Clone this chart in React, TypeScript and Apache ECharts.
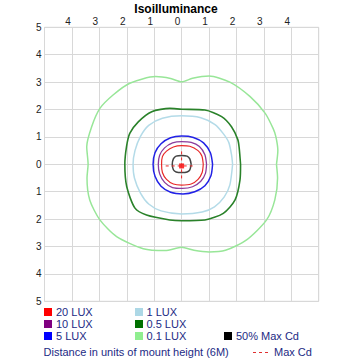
import React, { useEffect, useRef } from 'react';
import * as echarts from 'echarts';

const xTickLabels = ['', '4', '3', '2', '1', '0', '1', '2', '3', '4', ''];
const yTickLabels = ['5', '4', '3', '2', '1', '0', '1', '2', '3', '4', '5'];

const lux01: number[][] = [
  [3.46, 0.0], [3.51, 0.5], [3.44, 1.0], [3.34, 1.3], [3.05, 1.86], [2.5, 2.47], [1.76, 3.0], [1.0, 3.22],
  [0.4, 3.14], [0.0, 3.01], [-0.4, 3.13], [-0.95, 3.2], [-1.89, 2.96], [-2.5, 2.53], [-2.98, 2.04],
  [-3.28, 1.37], [-3.46, 0.64], [-3.41, 0.0], [-3.45, -0.5], [-3.35, -1.3], [-2.98, -2.03], [-2.37, -2.64],
  [-1.4, -3.08], [-0.6, -3.15], [0.0, -3.03], [0.45, -3.14], [1.0, -3.2], [1.6, -3.14], [2.37, -2.76],
  [3.1, -2.03], [3.4, -1.3], [3.5, -0.5], [3.46, 0.0],
];
const lux05: number[][] = [
  [2.15, 0.0], [2.1, 0.6], [2.05, 0.9], [1.82, 1.37], [1.46, 1.74], [0.85, 1.98], [0.0, 2.01],
  [-0.43, 2.04], [-1.09, 1.92], [-1.58, 1.55], [-1.89, 1.13], [-2.01, 0.64], [-2.07, 0.0], [-2.0, -0.82],
  [-1.7, -1.6], [-1.28, -1.85], [-0.43, -2.03], [0.0, -2.06], [0.85, -2.03], [1.52, -1.79], [1.95, -1.3],
  [2.13, -0.57], [2.15, 0.0],
];
const lux1: number[][] = [
  [1.86, 0.0], [1.82, 0.35], [1.72, 0.8], [1.52, 1.12], [1.22, 1.45], [0.7, 1.7], [0.0, 1.77],
  [-0.7, 1.68], [-1.2, 1.42], [-1.5, 1.02], [-1.7, 0.5], [-1.77, 0.0], [-1.72, -0.5], [-1.5, -1.05],
  [-1.2, -1.45], [-0.75, -1.7], [0.0, -1.81], [0.75, -1.74], [1.2, -1.55], [1.55, -1.2], [1.76, -0.75],
  [1.86, 0.0],
];
const lux5: number[][] = [
  [1.13, 0.0], [1.05, 0.42], [0.8, 0.78], [0.43, 0.98], [0.0, 1.03], [-0.4, 0.97], [-0.75, 0.75],
  [-0.97, 0.42], [-1.04, 0.0], [-0.97, -0.44], [-0.75, -0.8], [-0.4, -1.02], [0.05, -1.08], [0.48, -1.0],
  [0.85, -0.78], [1.07, -0.42], [1.13, 0.0],
];
const lux10: number[][] = [
  [0.91, 0.0], [0.85, 0.35], [0.65, 0.65], [0.35, 0.8], [0.0, 0.83], [-0.33, 0.78], [-0.62, 0.6],
  [-0.8, 0.33], [-0.85, 0.0], [-0.8, -0.35], [-0.62, -0.66], [-0.33, -0.85], [0.03, -0.88], [0.4, -0.82],
  [0.7, -0.62], [0.87, -0.33], [0.91, 0.0],
];
const lux20: number[][] = [
  [0.79, 0.0], [0.74, 0.3], [0.6, 0.5], [0.3, 0.66], [0.0, 0.68], [-0.3, 0.63], [-0.55, 0.48],
  [-0.7, 0.28], [-0.73, 0.0], [-0.7, -0.3], [-0.55, -0.55], [-0.3, -0.72], [0.0, -0.76], [0.35, -0.72],
  [0.6, -0.55], [0.75, -0.3], [0.79, 0.0],
];
const halfMaxCd: number[][] = [
  [0.35, 0.0], [0.3, 0.2], [0.2, 0.3], [0.0, 0.32], [-0.2, 0.3], [-0.3, 0.2], [-0.34, 0.0], [-0.3, -0.2],
  [-0.2, -0.28], [0.0, -0.3], [0.2, -0.28], [0.3, -0.2], [0.35, 0.0],
];
const maxCdPoint: number[] = [0.0, -0.06];
const maxCdHorizontal: number[][] = [[-0.58, -0.06], [0.5, -0.06]];
const maxCdVertical: number[][] = [[0.0, 0.47], [0.0, -0.57]];

const contours = [
  { name: '0.1 LUX', color: '#98e698', width: 1.5, data: lux01 },
  { name: '0.5 LUX', color: '#2a822a', width: 1.6, data: lux05 },
  { name: '1 LUX', color: '#b4dbe8', width: 1.5, data: lux1 },
  { name: '5 LUX', color: '#2222e6', width: 1.5, data: lux5 },
  { name: '10 LUX', color: '#8c3c9c', width: 1.3, data: lux10 },
  { name: '20 LUX', color: '#e82828', width: 1.2, data: lux20 },
  { name: '50% Max Cd', color: '#444444', width: 1.5, data: halfMaxCd },
];

const legendCol1 = [
  { name: '20 LUX', color: '#ff0000' },
  { name: '10 LUX', color: '#800080' },
  { name: '5 LUX', color: '#0000ff' },
];
const legendCol2 = [
  { name: '1 LUX', color: '#add8e6' },
  { name: '0.5 LUX', color: '#007000' },
  { name: '0.1 LUX', color: '#90ee90' },
];

const TEXT = '#1c2a84';
const FONT = "'Liberation Sans', Arial, sans-serif";

export default function App() {
  const ref = useRef<HTMLDivElement>(null);
  useEffect(() => {
    const chart = echarts.init(ref.current!, null, { renderer: 'svg' });
    const rowsY = [312, 324, 336];
    const graphic: any[] = [
      {
        type: 'text', x: 176, y: 9,
        style: { text: 'Isoilluminance', fontFamily: FONT, fontSize: 12, fontWeight: 'bold', fill: '#000', align: 'center', verticalAlign: 'middle' },
      },
    ];
    const addItem = (sx: number, tx: number, y: number, name: string, color: string) => {
      graphic.push({ type: 'rect', shape: { x: sx, y: y - 4, width: 8, height: 8 }, style: { fill: color } });
      graphic.push({ type: 'text', x: tx, y, style: { text: name, fontFamily: FONT, fontSize: 11, fill: TEXT, verticalAlign: 'middle' } });
    };
    legendCol1.forEach((it, i) => addItem(44, 56, rowsY[i], it.name, it.color));
    legendCol2.forEach((it, i) => addItem(135, 146.5, rowsY[i], it.name, it.color));
    addItem(224, 236, rowsY[2], '50% Max Cd', '#000000');
    graphic.push({ type: 'text', x: 43.5, y: 352, style: { text: 'Distance in units of mount height (6M)', fontFamily: FONT, fontSize: 11, fill: TEXT, verticalAlign: 'middle' } });
    graphic.push({ type: 'line', shape: { x1: 253, y1: 352.5, x2: 268, y2: 352.5 }, style: { stroke: '#e03030', lineWidth: 1, lineDash: [3, 3] } });
    graphic.push({ type: 'text', x: 274, y: 352, style: { text: 'Max Cd', fontFamily: FONT, fontSize: 11, fill: TEXT, verticalAlign: 'middle' } });

    const series: any[] = contours.map((c) => ({
      name: c.name, type: 'line', data: c.data, showSymbol: false, smooth: 0.25,
      lineStyle: { color: c.color, width: c.width }, silent: true,
    }));
    series.push({
      name: 'Max Cd H', type: 'line', data: maxCdHorizontal, showSymbol: false,
      lineStyle: { color: '#e82828', width: 1, type: [3, 3] },
    });
    series.push({
      name: 'Max Cd V', type: 'line', data: maxCdVertical, showSymbol: false,
      lineStyle: { color: '#e82828', width: 1, type: [3, 3] },
    });
    series.push({
      name: 'Max Cd', type: 'scatter', data: [maxCdPoint], symbol: 'rect', symbolSize: 5,
      itemStyle: { color: '#ff0000' },
    });

    chart.setOption({
      animation: false,
      backgroundColor: '#ffffff',
      grid: { left: 44.5, top: 27.3, width: 274.2, height: 274, show: true, borderColor: '#d4d4d4', borderWidth: 1, backgroundColor: 'transparent' },
      xAxis: {
        type: 'value', position: 'top', min: -5, max: 5, interval: 1,
        axisLine: { show: false }, axisTick: { show: false },
        splitLine: { show: true, lineStyle: { color: '#d8d8d8', width: 1 } },
        axisLabel: {
          margin: 1, fontFamily: FONT, fontSize: 10, color: '#222', padding: [0, 8, 0, 0],
          formatter: (v: number) => xTickLabels[Math.round(v) + 5],
        },
      },
      yAxis: {
        type: 'value', min: -5, max: 5, interval: 1,
        axisLine: { show: false }, axisTick: { show: false },
        splitLine: { show: true, lineStyle: { color: '#d8d8d8', width: 1 } },
        axisLabel: {
          margin: 3, fontFamily: FONT, fontSize: 10, color: '#222',
          formatter: (v: number) => yTickLabels[5 - Math.round(v)],
        },
      },
      series,
      graphic,
    });
    return () => chart.dispose();
  }, []);
  return <div ref={ref} style={{ position: 'fixed', left: 0, top: 0, width: 360, height: 360, background: '#fff' }} />;
}
